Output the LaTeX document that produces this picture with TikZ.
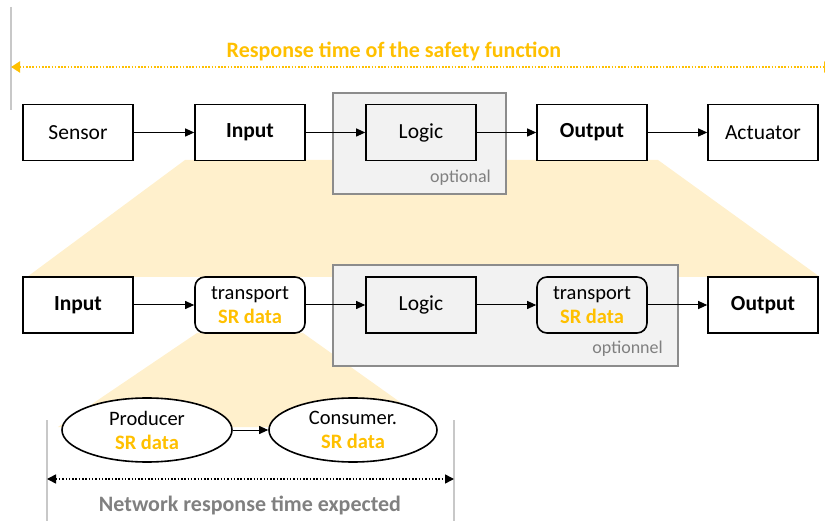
\documentclass[tikz,border=0pt]{standalone}
\usepackage{fontspec}
\setmainfont{Carlito}
\usetikzlibrary{arrows.meta,shapes.geometric}
\definecolor{gold}{HTML}{FFC000}
\definecolor{paleyellow}{HTML}{FFF0CC}
\definecolor{optfill}{HTML}{F2F2F2}
\definecolor{optline}{HTML}{8C8C8C}
\definecolor{txtgray}{HTML}{808080}
\definecolor{dimgray}{HTML}{C8C8C8}
\tikzset{
  box/.style={draw=black, line width=1.6pt, fill=white, minimum width=110pt, minimum height=56pt, inner sep=0pt, font=\fontsize{21.5}{25}\selectfont},
  ibox/.style={box, fill=optfill},
  rbox/.style={box, rounded corners=10pt, align=center, font=\fontsize{20.5}{24}\selectfont},
  optbox/.style={draw=optline, line width=1.8pt, fill=optfill, inner sep=0pt},
  optlabel/.style={text=txtgray, font=\fontsize{18}{20}\selectfont, inner sep=0pt},
  ell/.style={ellipse, draw=black, line width=1.6pt, fill=white, minimum width=170pt, minimum height=64pt, inner sep=0pt, align=center, font=\fontsize{20.5}{24}\selectfont},
  arr/.style={-{Triangle[length=9pt,width=8pt]}, line width=1pt, black},
  dimline/.style={dimgray, line width=1.5pt},
}
\newcommand{\srdata}{\textcolor{gold}{\bfseries SR data}}
\begin{document}
\begin{tikzpicture}[x=1pt,y=-1pt]
\useasboundingbox (0,0) rectangle (825,521);
\clip (0,0) rectangle (825,521);
% yellow zoom trapezoids
\fill[paleyellow] (185,160) -- (658,160) -- (820,277) -- (27,277) -- cycle;
\fill[paleyellow] (197,333) -- (303,333) -- (435,427) -- (58,427) -- cycle;
% optional boxes
\node[optbox, minimum width=173pt, minimum height=101pt] (opt1) at (419.5,143.5) {};
\node[optlabel, anchor=east] (opt1lbl) at (491,178) {optional};
\node[optbox, minimum width=345pt, minimum height=101pt] (opt2) at (505.5,315.5) {};
\node[optlabel, anchor=east] (opt2lbl) at (663,349) {optionnel};
% top row
\node[box] (sensor) at (78,132.5) {Sensor};
\node[box] (input1) at (250,132.5) {\bfseries Input};
\node[ibox] (logic1) at (421,132.5) {Logic};
\node[box] (output1) at (592,132.5) {\bfseries Output};
\node[box] (actuator) at (763,132.5) {Actuator};
\draw[arr] (sensor) -- (input1);
\draw[arr] (input1) -- (logic1);
\draw[arr] (logic1) -- (output1);
\draw[arr] (output1) -- (actuator);
% bottom row
\node[box] (input2) at (78,305) {\bfseries Input};
\node[rbox] (trans1) at (250,305) {transport\\\srdata};
\node[ibox] (logic2) at (421,305) {Logic};
\node[rbox, fill=optfill] (trans2) at (592,305) {transport\\\srdata};
\node[box] (output2) at (763,305) {\bfseries Output};
\draw[arr] (input2) -- (trans1);
\draw[arr] (trans1) -- (logic2);
\draw[arr] (logic2) -- (trans2);
\draw[arr] (trans2) -- (output2);
% ellipses
\node[ell] (prod) at (147,430) {Producer\\\srdata};
\node[ell, minimum width=168pt] (cons) at (353,430) {Consumer.\\\srdata};
\draw[arr] (prod) -- (cons);
% top dimension
\coordinate (tl) at (11,7);
\coordinate (tlb) at (11,110);
\coordinate (ta) at (11,67);
\coordinate (tb) at (833,67);
\draw[dimline] (tl) -- (tlb);
\draw[gold, line width=2pt, dash pattern=on 1.6pt off 1.6pt, {Triangle[length=9pt,width=11pt,fill=gold,sharp]}-{Triangle[length=9pt,width=11pt,fill=gold,sharp]}] (ta) -- (tb);
\node[text=gold, font=\fontsize{22}{25}\selectfont\bfseries] (title) at (394,51) {Response time of the safety function};
% bottom dimension
\coordinate (bl) at (47,420);
\coordinate (blb) at (47,521);
\coordinate (br) at (454,420);
\coordinate (brb) at (454,521);
\draw[dimline] (bl) -- (blb);
\draw[dimline] (br) -- (brb);
\coordinate (ba) at (47,479);
\coordinate (bb) at (454,479);
\draw[black, line width=1.6pt, dash pattern=on 1.5pt off 1.8pt, {Triangle[length=9pt,width=9pt,sharp]}-{Triangle[length=9pt,width=9pt,sharp]}] (ba) -- (bb);
\node[text=txtgray, font=\fontsize{22}{25}\selectfont\bfseries] (nrt) at (250,505) {Network response time expected};
\end{tikzpicture}
\end{document}
